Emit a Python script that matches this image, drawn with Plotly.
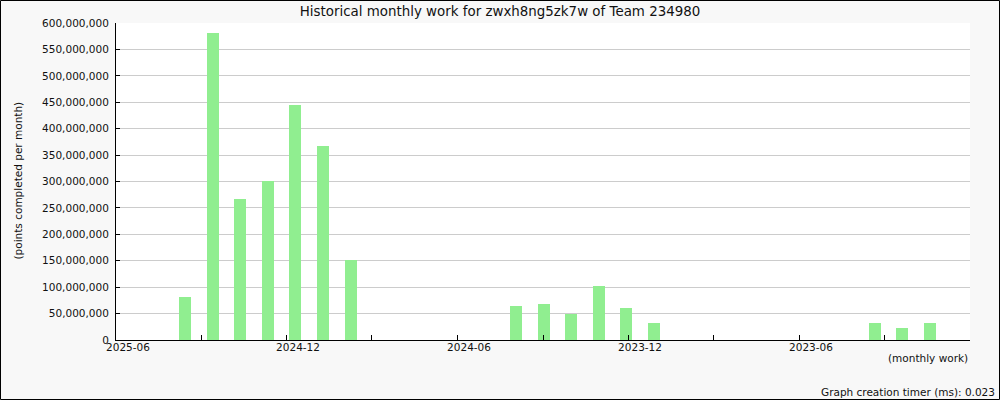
import plotly.graph_objects as go

# ---- data ----
months = ["2025-03", "2025-02", "2025-01", "2024-12", "2024-11", "2024-10", "2024-09",
          "2024-08", "2024-07", "2024-06", "2024-05", "2024-04", "2024-03", "2024-02",
          "2024-01", "2023-12", "2023-11", "2023-10", "2023-09", "2023-08", "2023-07",
          "2023-06", "2023-05", "2023-04", "2023-03", "2023-02", "2023-01", "2022-12"]
points = [82e6, 581e6, 267e6, 301e6, 445e6, 368e6, 152e6,
          0, 0, 0, 0, 0, 63.5e6, 67.5e6,
          48.5e6, 103e6, 61.5e6, 33e6, 0, 0, 0,
          0, 0, 0, 0, 33e6, 23e6, 33e6]

tick_dates = ["2025-06-01", "2025-03-01", "2024-12-01", "2024-09-01", "2024-06-01",
              "2024-03-01", "2023-12-01", "2023-09-01", "2023-06-01", "2023-03-01"]
tick_labels = ["2025-06", "", "2024-12", "", "2024-06", "", "2023-12", "", "2023-06", ""]

title = "Historical monthly work for zwxh8ng5zk7w of Team 234980"
y_title = "(points completed per month)"
x_title = "(monthly work)"
footer = "Graph creation timer (ms): 0.023"

FONT = "DejaVu Sans"
W, H = 1000, 400
L, R, T, B = 116, 30, 23, 60
PW, PH = W - L - R, H - T - B

fig = go.Figure()
fig.add_trace(go.Bar(x=months, y=points, marker=dict(color="#90ee90", line=dict(width=0)),
                     width=0.435, xaxis="x", yaxis="y", hoverinfo="x+y"))
fig.add_trace(go.Scatter(x=tick_dates, y=[None] * len(tick_dates), xaxis="x2", yaxis="y",
                         mode="markers", showlegend=False, hoverinfo="skip"))

fig.update_layout(
    width=W, height=H,
    margin=dict(l=L, r=R, t=T, b=B, pad=0),
    paper_bgcolor="#f8f8f8", plot_bgcolor="#ffffff",
    showlegend=False,
    font=dict(family=FONT, size=10.5, color="#111111"),
    title=dict(text=title, x=0.5, xref="container", xanchor="center",
               y=1 - 11 / H, yref="container", yanchor="middle",
               font=dict(family=FONT, size=13.4, color="#111111")),
    bargap=0,
    xaxis=dict(type="category", range=[-2.5, 28.45], showticklabels=False, ticks="",
               showgrid=False, showline=False, zeroline=False, fixedrange=True),
    xaxis2=dict(type="date", overlaying="x", side="bottom", anchor="y",
                range=["2025-06-01", "2022-11-30"],
                tickmode="array", tickvals=tick_dates, ticktext=tick_labels,
                ticks="inside", ticklen=5, tickcolor="#000000", tickwidth=1,
                showline=True, linecolor="#000000", linewidth=1,
                showgrid=False, zeroline=False, ticklabelshift=-12, ticklabelstandoff=-3,
                tickfont=dict(family=FONT, size=10.5, color="#111111")),
    yaxis=dict(range=[0, 600e6], dtick=50e6, tick0=0, tickformat=",d",
               ticks="inside", ticklen=4, tickcolor="#000000",
               showline=True, linecolor="#000000", linewidth=1,
               showgrid=True, gridcolor="#cccccc", gridwidth=1, zeroline=False,
               ticklabelstandoff=4,
               tickfont=dict(family=FONT, size=10.5, color="#111111")),
)

fig.add_annotation(text=y_title, textangle=-90, xref="paper", yref="paper",
                   x=(17 - L) / PW, y=(H - B - 180.5) / PH, xanchor="center", yanchor="middle",
                   showarrow=False, font=dict(family=FONT, size=10.5, color="#111111"))
fig.add_annotation(text=x_title, xref="paper", yref="paper",
                   x=(970 - L) / PW, y=(H - B - 358) / PH, xanchor="right", yanchor="middle",
                   showarrow=False, font=dict(family=FONT, size=10.5, color="#111111"))
fig.add_annotation(text=footer, xref="paper", yref="paper",
                   x=(997 - L) / PW, y=(H - B - 392) / PH, xanchor="right", yanchor="middle",
                   showarrow=False, font=dict(family=FONT, size=10.5, color="#111111"))

fig.add_shape(type="rect", xref="paper", yref="paper",
              x0=(0.5 - L) / PW, x1=(W - 0.5 - L) / PW,
              y0=(H - B - (H - 0.5)) / PH, y1=(H - B - 0.5) / PH,
              line=dict(color="#000000", width=1), fillcolor="rgba(0,0,0,0)", layer="above")

fig.write_html("out.html", config={"displayModeBar": False},
               post_script="document.body.style.margin='0';document.body.style.overflow='hidden';")
